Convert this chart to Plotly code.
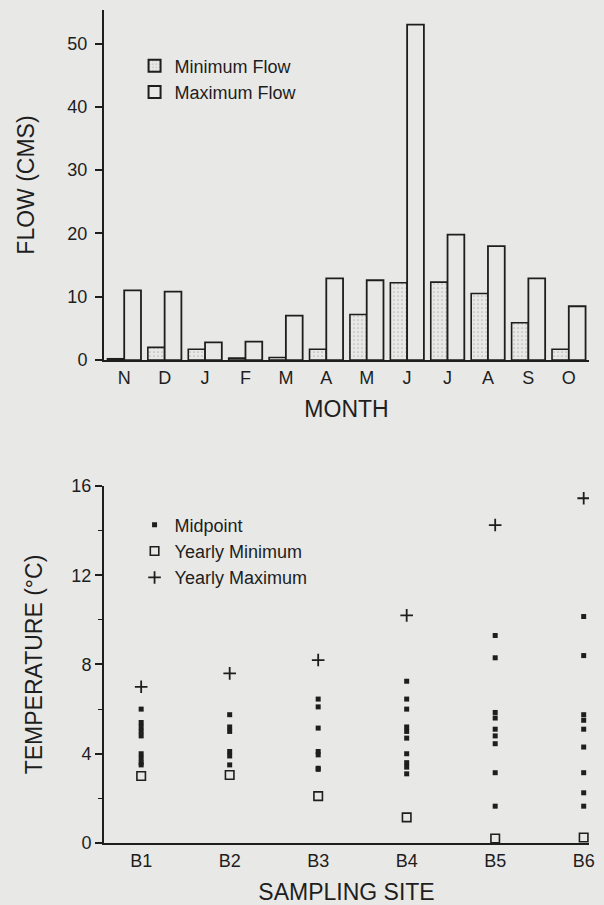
import plotly.graph_objects as go

# ---- Top chart data: monthly flow (CMS) ----
months = ["Nov", "Dec", "Jan", "Feb", "Mar", "Apr", "May", "Jun", "Jul", "Aug", "Sep", "Oct"]
month_labels = ["N", "D", "J", "F", "M", "A", "M", "J", "J", "A", "S", "O"]
min_flow = [0.2, 2.0, 1.7, 0.3, 0.4, 1.7, 7.2, 12.2, 12.3, 10.5, 5.9, 1.7]
max_flow = [11.0, 10.8, 2.8, 2.9, 7.0, 12.9, 12.6, 53.0, 19.8, 18.0, 12.9, 8.5]

# ---- Bottom chart data: temperature by sampling site ----
sites = ["B1", "B2", "B3", "B4", "B5", "B6"]
site_pos = [1, 2, 3, 4, 5, 6]
yearly_min = [3.0, 3.05, 2.1, 1.15, 0.2, 0.25]
yearly_max = [7.0, 7.6, 8.2, 10.2, 14.25, 15.45]
midpoints = {
    "B1": [6.0, 5.4, 5.2, 5.0, 4.8, 4.0, 3.8, 3.6, 3.5],
    "B2": [5.75, 5.2, 5.0, 4.1, 3.9, 3.5],
    "B3": [6.45, 6.1, 5.15, 4.1, 3.95, 3.35, 3.3],
    "B4": [7.25, 6.45, 6.0, 5.2, 5.0, 4.7, 4.0, 3.6, 3.4, 3.1],
    "B5": [9.3, 8.3, 5.85, 5.6, 5.1, 4.8, 4.45, 3.15, 1.65],
    "B6": [10.15, 8.4, 5.75, 5.5, 5.1, 4.3, 3.15, 2.25, 1.65],
}

BG = "#e8e8e6"
INK = "#1e1e1e"
FONT = "Liberation Sans, Arial, sans-serif"

fig = go.Figure()

fig.add_trace(go.Bar(
    x=months, y=min_flow, name="Minimum Flow",
    marker=dict(color=BG, line=dict(color=INK, width=1.6),
                pattern=dict(shape=".", fgcolor="#8a8a8a", bgcolor=BG, size=4, solidity=0.15)),
    xaxis="x", yaxis="y", legend="legend",
))
fig.add_trace(go.Bar(
    x=months, y=max_flow, name="Maximum Flow",
    marker=dict(color=BG, line=dict(color=INK, width=1.8)),
    xaxis="x", yaxis="y", legend="legend",
))

mid_x, mid_y = [], []
for s, p in zip(sites, site_pos):
    for v in midpoints[s]:
        mid_x.append(p)
        mid_y.append(v)

fig.add_trace(go.Scatter(
    x=mid_x, y=mid_y, mode="markers", name="Midpoint",
    marker=dict(symbol="square", size=5, color=INK),
    xaxis="x2", yaxis="y2", legend="legend2",
))
fig.add_trace(go.Scatter(
    x=site_pos, y=yearly_min, mode="markers", name="Yearly Minimum",
    marker=dict(symbol="square-open", size=8.5, color=INK, line=dict(width=1.6)),
    xaxis="x2", yaxis="y2", legend="legend2", cliponaxis=False,
))
fig.add_trace(go.Scatter(
    x=site_pos, y=yearly_max, mode="markers", name="Yearly Maximum",
    marker=dict(symbol="cross-thin", size=9, color=INK, line=dict(width=1.8, color=INK)),
    xaxis="x2", yaxis="y2", legend="legend2",
))

tick_font = dict(family=FONT, size=18, color=INK)
title_font = dict(family=FONT, size=23, color=INK)
legend_font = dict(family=FONT, size=18, color=INK)

fig.update_layout(
    width=604, height=905,
    paper_bgcolor=BG, plot_bgcolor=BG,
    margin=dict(l=104, r=15, t=10, b=62, autoexpand=False),
    font=dict(family=FONT, color=INK),
    barmode="group", bargap=0.17, bargroupgap=0.0,
    showlegend=True,
    xaxis=dict(
        domain=[0, 1], anchor="y", type="category",
        categoryorder="array", categoryarray=months,
        tickvals=months, ticktext=month_labels,
        range=[-0.5, 11.5], showgrid=False, zeroline=False,
        showline=True, linecolor=INK, linewidth=2, ticks="",
        tickfont=tick_font, automargin=False,
        title=dict(text="MONTH", font=title_font, standoff=14),
    ),
    yaxis=dict(
        domain=[0.5798, 1.0], anchor="x",
        range=[0, 55.3], tickvals=[0, 10, 20, 30, 40, 50],
        showgrid=False, zeroline=False, showline=True, linecolor=INK, linewidth=2,
        ticks="outside", ticklen=7, tickwidth=1.5, tickcolor=INK,
        ticklabelstandoff=4,
        tickfont=tick_font, automargin=False,
        title=dict(text="FLOW (CMS)", font=title_font, standoff=26),
    ),
    xaxis2=dict(
        domain=[0, 1], anchor="y2",
        range=[0.58, 6.06], tickvals=site_pos, ticktext=sites,
        showgrid=False, zeroline=False, showline=True, linecolor=INK, linewidth=2,
        ticks="", tickfont=tick_font, automargin=False,
        title=dict(text="SAMPLING SITE", font=title_font, standoff=19),
    ),
    yaxis2=dict(
        domain=[0, 0.4286], anchor="x2",
        range=[0, 16], tickvals=[0, 4, 8, 12, 16],
        showgrid=False, zeroline=False, showline=True, linecolor=INK, linewidth=2,
        ticks="outside", ticklen=7, tickwidth=1.5, tickcolor=INK,
        minor=dict(tickvals=[2, 6, 10, 14], ticks="outside", ticklen=4, tickwidth=1.2, tickcolor=INK),
        tickfont=tick_font, automargin=False,
        title=dict(text="TEMPERATURE (°C)", font=title_font, standoff=22),
    ),
    legend=dict(
        x=0.063, y=0.955, xanchor="left", yanchor="top",
        bgcolor="rgba(0,0,0,0)", font=legend_font,
        tracegroupgap=0, itemsizing="constant",
    ),
    legend2=dict(
        x=0.063, y=0.404, xanchor="left", yanchor="top",
        bgcolor="rgba(0,0,0,0)", font=legend_font,
        tracegroupgap=0,
    ),
)

fig.write_html("out.html")
